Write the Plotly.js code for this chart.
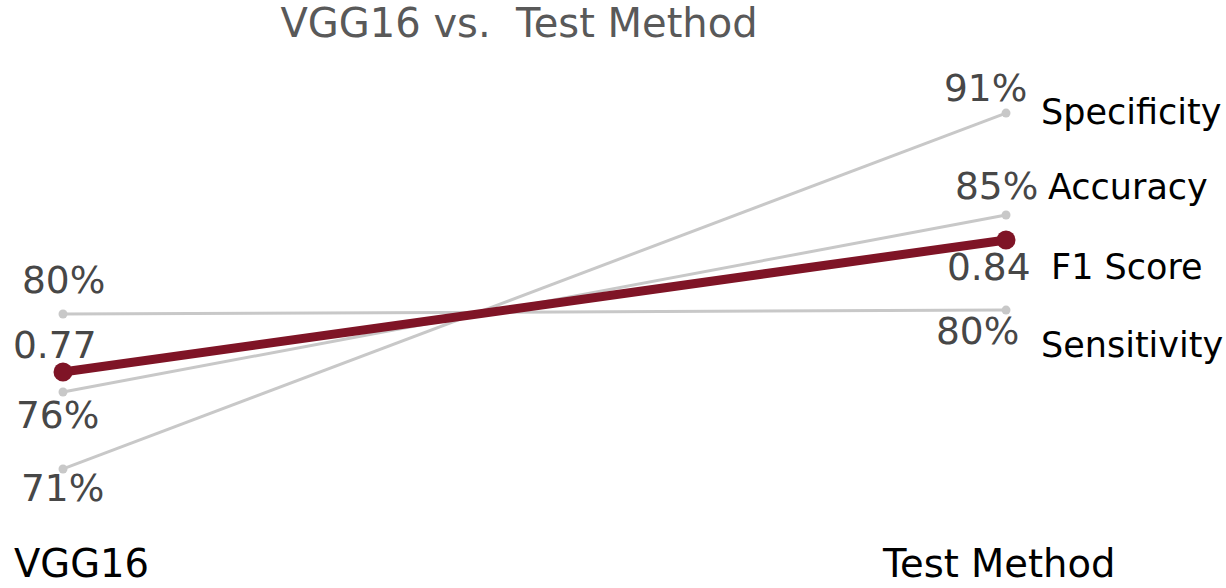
<!DOCTYPE html>
<html>
<head>
<meta charset="utf-8">
<script src="https://cdn.plot.ly/plotly-3.0.1.min.js"></script>
<style>html,body{margin:0;padding:0;background:#fff;}#chart{width:1226px;height:588px;}</style>
</head>
<body>
<div id="chart"></div>
<script>
// ---- data ----
const methods = ["VGG16", "Test Method"];
const metrics = ["Specificity", "Accuracy", "F1 Score", "Sensitivity"];
const vgg16Values = [0.7146, 0.7562, 0.7670, 0.7984];
const testValues  = [0.9070, 0.8519, 0.8384, 0.8005];
const labelFormats = ["pct", "pct", "dec", "pct"];
const chartTitle = "VGG16 vs.  Test Method";

// ---- styles ----
const grey = "#c8c8c8";
const red = "#7f1426";
const highlight = "F1 Score";
const font = "DejaVu Sans, Verdana, sans-serif";
// label offsets in px: [dx, dy] for left and right value labels, and name label placement
const leftOffsets  = {"Specificity":[-1,19], "Accuracy":[-6,23], "F1 Score":[-8,-27], "Sensitivity":[0,-34]};
const rightOffsets = {"Specificity":[-21,-25], "Accuracy":[-10,-29], "F1 Score":[-17,27], "Sensitivity":[-29,21]};
const nameOffsets  = {"Specificity":[33,-1], "Accuracy":[40,-28], "F1 Score":[43,27], "Sensitivity":[33,35]};

function fmt(v, f){ return f === "pct" ? Math.round(v*100) + "%" : v.toFixed(2); }

const traces = [];
const order = metrics.map((m,i)=>i).sort((a,b)=> (metrics[a]===highlight) - (metrics[b]===highlight));
order.forEach(i => {
  const hl = metrics[i] === highlight;
  traces.push({
    type: "scatter", mode: "lines+markers",
    x: [0, 1], y: [vgg16Values[i], testValues[i]],
    line: {color: hl ? red : grey, width: hl ? 9 : 3},
    marker: {color: hl ? red : grey, size: hl ? 19 : 9},
    cliponaxis: false, hoverinfo: "skip", showlegend: false
  });
});

const annotations = [];
metrics.forEach((m, i) => {
  annotations.push({x: 0, y: vgg16Values[i], xref: "x", yref: "y", text: fmt(vgg16Values[i], labelFormats[i]),
    showarrow: false, xanchor: "center", yanchor: "middle", xshift: leftOffsets[m][0], yshift: -leftOffsets[m][1],
    font: {family: font, size: 37.5, color: "#474747"}});
  annotations.push({x: 1, y: testValues[i], xref: "x", yref: "y", text: fmt(testValues[i], labelFormats[i]),
    showarrow: false, xanchor: "center", yanchor: "middle", xshift: rightOffsets[m][0], yshift: -rightOffsets[m][1],
    font: {family: font, size: 37.5, color: "#474747"}});
  annotations.push({x: 1, y: testValues[i], xref: "x", yref: "y", text: m,
    showarrow: false, xanchor: "left", yanchor: "middle", xshift: nameOffsets[m][0], yshift: -nameOffsets[m][1],
    font: {family: font, size: 35, color: "#000"}});
});
annotations.push({x: 0, y: 0, xref: "x", yref: "paper", text: methods[0], showarrow: false,
  xanchor: "left", yanchor: "middle", xshift: -51, yshift: -55, font: {family: font, size: 38.5, color: "#000"}});
annotations.push({x: 1, y: 0, xref: "x", yref: "paper", text: methods[1], showarrow: false,
  xanchor: "center", yanchor: "middle", xshift: -8, yshift: -55, font: {family: font, size: 38.5, color: "#000"}});

const layout = {
  width: 1226, height: 588,
  margin: {l: 20, r: 180, t: 60, b: 80},
  paper_bgcolor: "#fff", plot_bgcolor: "#fff",
  title: {text: chartTitle, x: 519/1226, xanchor: "center", y: 1 - 23/588, yanchor: "middle",
    font: {family: font, size: 40, color: "#595959"}},
  xaxis: {range: [-0.0456, 1.0424], visible: false, fixedrange: true},
  yaxis: {range: [0.6935, 0.9357], visible: false, fixedrange: true},
  annotations: annotations,
  showlegend: false
};

Plotly.newPlot("chart", traces, layout, {displayModeBar: false, staticPlot: true});
</script>
</body>
</html>
